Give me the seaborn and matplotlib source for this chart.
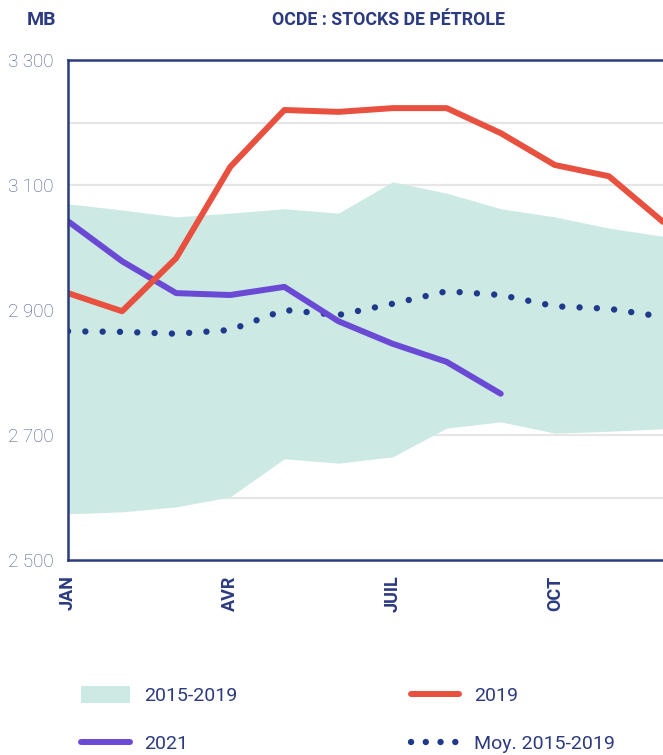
import numpy as np
import pandas as pd
import matplotlib
matplotlib.use("Agg")
import matplotlib.pyplot as plt
from matplotlib.patches import Patch
from matplotlib.lines import Line2D
import seaborn as sns

# --- data (Mb, monthly) ---
months = ["JAN", "FEV", "MAR", "AVR", "MAI", "JUIN", "JUIL", "AOUT", "SEPT", "OCT", "NOV", "DEC"]
tick_months = ["JAN", "AVR", "JUIL", "OCT"]

band_high = [3070, 3060, 3049, 3055, 3062, 3055, 3105, 3087, 3062, 3049, 3031, 3018]
band_low = [2574, 2577, 2585, 2601, 2662, 2655, 2665, 2711, 2721, 2703, 2706, 2710]
stocks_2019 = [2927, 2898, 2983, 3129, 3220, 3217, 3223, 3223, 3183, 3132, 3114, 3041]
stocks_2021 = [3042, 2978, 2927, 2924, 2937, 2882, 2846, 2817, 2766]
avg_2015_2019 = [2866, 2865, 2862, 2868, 2900, 2892, 2910, 2930, 2924, 2906, 2902, 2889]

y_ticks = [2500, 2700, 2900, 3100, 3300]
y_tick_labels = ["2 500", "2 700", "2 900", "3 100", "3 300"]

# colours
BAND = "#cceae3"
RED = "#e8503f"
PURPLE = "#6a4ad4"
DOTS = "#1f3a8c"
NAVY = "#2c3a80"
GRID = "#e6e6e6"

sns.set_theme(style="white")
plt.rcParams["font.family"] = ["Roboto", "DejaVu Sans"]

x = np.arange(len(months))
df19 = pd.DataFrame({"m": x, "v": stocks_2019})
df21 = pd.DataFrame({"m": x[:len(stocks_2021)], "v": stocks_2021})
dfavg = pd.DataFrame({"m": x, "v": avg_2015_2019})

fig = plt.figure(figsize=(6.63, 7.55), dpi=100)
ax = fig.add_axes([68 / 663, 1 - 560 / 755, (663 - 68) / 663, 500 / 755])

ax.fill_between(x, band_low, band_high, color=BAND, lw=0, zorder=1)

DOT_STYLE = (0, (0.01, 2.7))
sns.lineplot(data=dfavg, x="m", y="v", ax=ax, color=DOTS, lw=4.6, zorder=3)
ax.lines[-1].set_linestyle(DOT_STYLE)
ax.lines[-1].set_dash_capstyle("round")
sns.lineplot(data=df21, x="m", y="v", ax=ax, color=PURPLE, lw=4.3,
             solid_capstyle="round", zorder=4)
sns.lineplot(data=df19, x="m", y="v", ax=ax, color=RED, lw=4.3,
             solid_capstyle="round", zorder=5)

ax.set_xlim(0, 11)
ax.set_ylim(2500, 3300)
ax.set_xlabel("")
ax.set_ylabel("")

# grid every 100 Mb
for g in range(2600, 3300, 100):
    ax.axhline(g, color=GRID, lw=1.6, zorder=0)

ax.set_yticks(y_ticks)
ax.set_yticklabels(y_tick_labels, fontsize=13.5, fontweight="light", color="#4a558f")
ax.set_xticks([months.index(m) for m in tick_months])
ax.set_xticklabels(tick_months, rotation=90, fontsize=13, fontweight="bold",
                   color=NAVY, va="top", ha="center")
ax.tick_params(axis="y", length=0, pad=10.5)
ax.tick_params(axis="x", length=0, pad=11)

for side in ["left", "bottom", "top"]:
    ax.spines[side].set_color(NAVY)
    ax.spines[side].set_linewidth(1.8)
ax.spines["right"].set_visible(False)
for s in ax.spines.values():
    s.set_zorder(6)

fig.text(42 / 663, 1 - 20 / 755, "MB", ha="center", va="center",
         fontsize=14, fontweight="bold", color=NAVY)
fig.text(389 / 663, 1 - 20 / 755, "OCDE : STOCKS DE PÉTROLE", ha="center", va="center",
         fontsize=12.8, fontweight="bold", color=NAVY)

handles = [
    Patch(facecolor=BAND, edgecolor="none"),
    Line2D([], [], color=PURPLE, lw=4.3, solid_capstyle="round"),
    Line2D([], [], color=RED, lw=4.3, solid_capstyle="round"),
    Line2D([], [], color=DOTS, lw=4.6, linestyle=(0, (0.01, 2.3)), dash_capstyle="round"),
]
labels = ["2015-2019", "2021", "2019", "Moy. 2015-2019"]
leg = fig.legend(handles, labels, ncol=2, loc="upper left",
                 bbox_to_anchor=(81 / 663, 1 - 686 / 755), frameon=False,
                 fontsize=14, handlelength=2.5, handleheight=0.95, handletextpad=0.75,
                 columnspacing=8.9, labelspacing=1.5, borderpad=0, borderaxespad=0)
for t in leg.get_texts():
    t.set_color(NAVY)

fig.savefig("out.png", dpi=100)
